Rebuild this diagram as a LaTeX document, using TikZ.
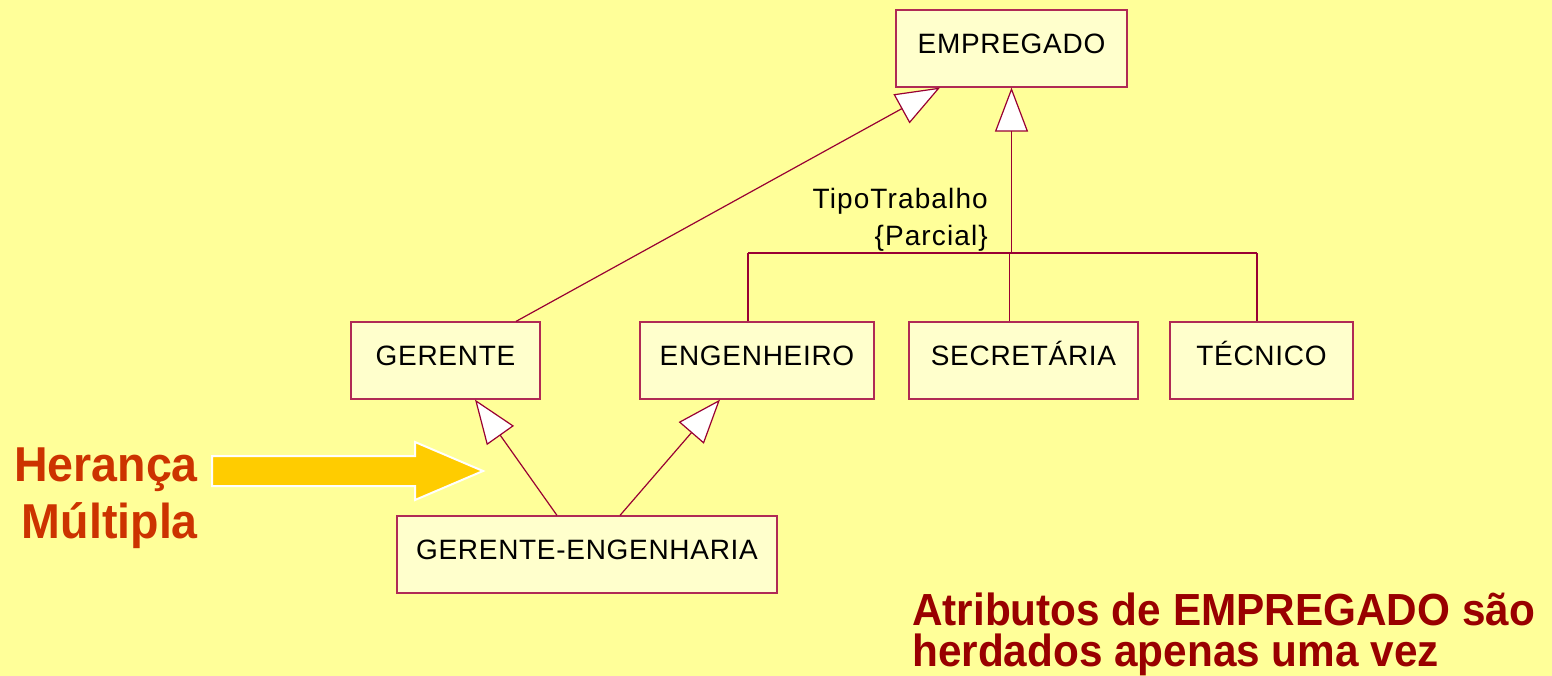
\documentclass[tikz,border=0pt]{standalone}
\usepackage{fontspec}
\setmainfont{Liberation Sans}
\newfontfamily\boxfont[LetterSpace=2.5]{Liberation Sans}
\newfontfamily\lblfont[LetterSpace=4]{Liberation Sans}
\newfontfamily\narrowbold[FakeStretch=0.95]{Liberation Sans}
\newfontfamily\narrowerbold[FakeStretch=0.94]{Liberation Sans}
\usetikzlibrary{arrows.meta}
\definecolor{bg}{HTML}{FFFF99}
\definecolor{boxfill}{HTML}{FFFFCC}
\definecolor{boxline}{HTML}{B02A55}
\definecolor{conn}{HTML}{990033}
\definecolor{bigarrow}{HTML}{FFCC00}
\definecolor{redtext}{HTML}{CC3300}
\definecolor{darkred}{HTML}{990000}
\tikzset{
  cls/.style={draw=boxline, fill=boxfill, line width=1.2pt, minimum height=77pt,
    inner sep=0pt, text height=22pt, text depth=12.5pt,
    font=\boxfont\fontsize{28}{32}\selectfont},
  connline/.style={draw=conn, line width=1.2pt},
  gen/.style={connline, -{Triangle[open, length=44pt, width=33pt, fill=white]}},
}
\begin{document}
\begin{tikzpicture}[x=1pt, y=-1pt]
\useasboundingbox[fill=bg] (0,0) rectangle (1552,676);
% classes
\node[cls, minimum width=231pt] (emp) at (1011.5,48.5) {EMPREGADO};
\node[cls, minimum width=189pt] (ger) at (445.5,360.5) {GERENTE};
\node[cls, minimum width=234pt] (eng) at (757,360.5) {ENGENHEIRO};
\node[cls, minimum width=229pt] (sec) at (1023.5,360.5) {SECRETÁRIA};
\node[cls, minimum width=183pt] (tec) at (1261.5,360.5) {TÉCNICO};
\node[cls, minimum width=380pt] (ge) at (587,554.5) {GERENTE-ENGENHARIA};
% generalization set bus
\coordinate (bm) at (1011.5,253);
\coordinate (bl) at (748,253);
\coordinate (bs) at (1009.5,253);
\coordinate (br) at (1257,253);
\draw[connline] (bl) -- (br);
\draw[gen] (bm) -- (emp.south);
\draw[connline] ([xshift=-9pt]eng.north) -- (bl);
\draw[connline] ([xshift=-14pt]sec.north) -- (bs);
\draw[connline] ([xshift=-4.5pt]tec.north) -- (br);
\node[anchor=north east, inner sep=0pt, align=right,
  font=\lblfont\fontsize{28}{37}\selectfont] (lbl) at (988,188) {TipoTrabalho\\{\{}Parcial{\}}};
% gerente -> empregado
\draw[gen] ([xshift=70.5pt]ger.north) -- ([xshift=-71.5pt]emp.south);
% multiple inheritance
\draw[gen] ([xshift=-30pt]ge.north) -- ([xshift=29.5pt]ger.south);
\draw[gen] ([xshift=33pt]ge.north) -- ([xshift=-37pt]eng.south);
% big arrow
\draw[draw=white, line width=2pt, fill=bigarrow]
  (212,456) -- (415,456) -- (415,442) -- (483,471) -- (415,500) -- (415,486) -- (212,486) -- cycle;
\node[anchor=north east, inner sep=0pt, align=right, text=redtext,
  font=\narrowbold\bfseries\fontsize{49}{57}\selectfont] (her) at (198,448) {Herança\\Múltipla};
\node[anchor=north west, inner sep=0pt, align=left, text=darkred,
  font=\narrowerbold\bfseries\fontsize{45}{41}\selectfont] (attr) at (912,593) {Atributos de EMPREGADO são\\herdados apenas uma vez};
\end{tikzpicture}
\end{document}
